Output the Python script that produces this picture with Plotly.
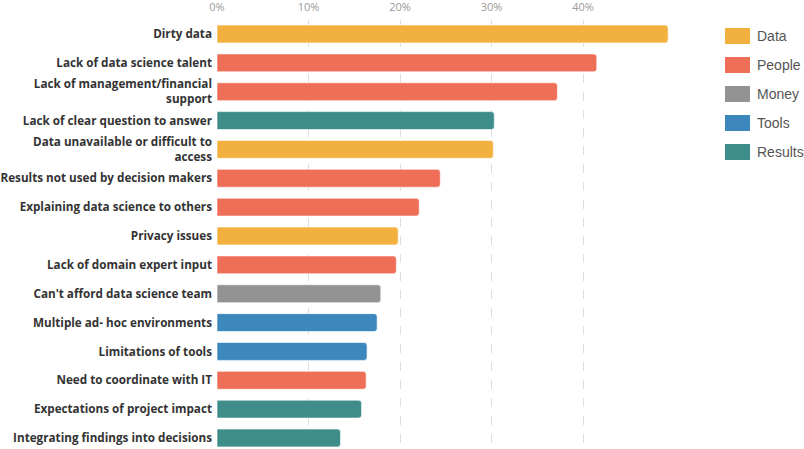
import plotly.graph_objects as go

# Survey results: share of respondents naming each barrier
barriers = [
    "Dirty data",
    "Lack of data science talent",
    "Lack of management/financial<br>support",
    "Lack of clear question to answer",
    "Data unavailable or difficult to<br>access",
    "Results not used by decision makers",
    "Explaining data science to others",
    "Privacy issues",
    "Lack of domain expert input",
    "Can't afford data science team",
    "Multiple ad- hoc environments",
    "Limitations of tools",
    "Need to coordinate with IT",
    "Expectations of project impact",
    "Integrating findings into decisions",
]
shares = [0.493, 0.415, 0.372, 0.303, 0.302, 0.244, 0.221, 0.198, 0.196,
          0.179, 0.175, 0.164, 0.163, 0.158, 0.135]
groups = ["Data", "People", "People", "Results", "Data", "People", "People",
          "Data", "People", "Money", "Tools", "Tools", "People", "Results",
          "Results"]

group_names = ["Data", "People", "Money", "Tools", "Results"]
group_colors = ["#F2B13F", "#EE6E58", "#939393", "#3C88BC", "#3F8D8A"]
color_of = dict(zip(group_names, group_colors))

tick_vals = [0, 0.1, 0.2, 0.3, 0.4]
tick_text = ["0%", "10%", "20%", "30%", "40%"]

fig = go.Figure()
fig.add_trace(go.Bar(
    x=shares,
    y=list(range(len(barriers))),
    orientation="h",
    width=0.62,
    marker=dict(color=[color_of[g] for g in groups],
                line=dict(color="rgba(255,255,255,0.6)", width=1),
                cornerradius=3),
    showlegend=False,
    hovertemplate="%{x:.0%}<extra></extra>",
))

# Category legend drawn as rounded swatches with labels
shapes = []
annotations = []
for i, (name, col) in enumerate(zip(group_names, group_colors)):
    yc = 36 + i * 29
    ypos = 1.0 - (yc - 20) / 429.0
    shapes.append(dict(
        type="rect", xref="paper", yref="paper", xsizemode="pixel", ysizemode="pixel",
        xanchor=1.0, yanchor=ypos,
        x0=725 - 690, x1=750 - 690, y0=-8, y1=8,
        fillcolor=col, line=dict(width=0), layer="above",
    ))
    annotations.append(dict(
        xref="paper", yref="paper", x=1.0, xshift=755 - 690,
        y=ypos, text=name, showarrow=False,
        xanchor="left", yanchor="middle",
        font=dict(family="Liberation Sans", size=14, color="#555555"),
    ))

fig.update_layout(
    width=804, height=449,
    margin=dict(l=217, r=114, t=20, b=0),
    plot_bgcolor="white", paper_bgcolor="white",
    shapes=shapes,
    annotations=annotations,
    xaxis=dict(
        side="top", range=[0, 0.5169],
        tickvals=tick_vals, ticktext=tick_text,
        tickfont=dict(family="Open Sans", size=11, color="#9a9a9a"),
        showgrid=True, gridcolor="#dedede", griddash="dash", gridwidth=1,
        zeroline=False, showline=False, ticks="",
        ticklabelstandoff=6, automargin=False,
    ),
    yaxis=dict(
        tickvals=list(range(len(barriers))), ticktext=barriers,
        range=[14.381, -0.485],
        tickfont=dict(family="Open Sans", size=11.7, color="#333333", weight=700),
        showgrid=False, zeroline=False, showline=False, ticks="",
        ticklabelstandoff=4, automargin=False,
    ),
)

fig.write_html("out.html")
